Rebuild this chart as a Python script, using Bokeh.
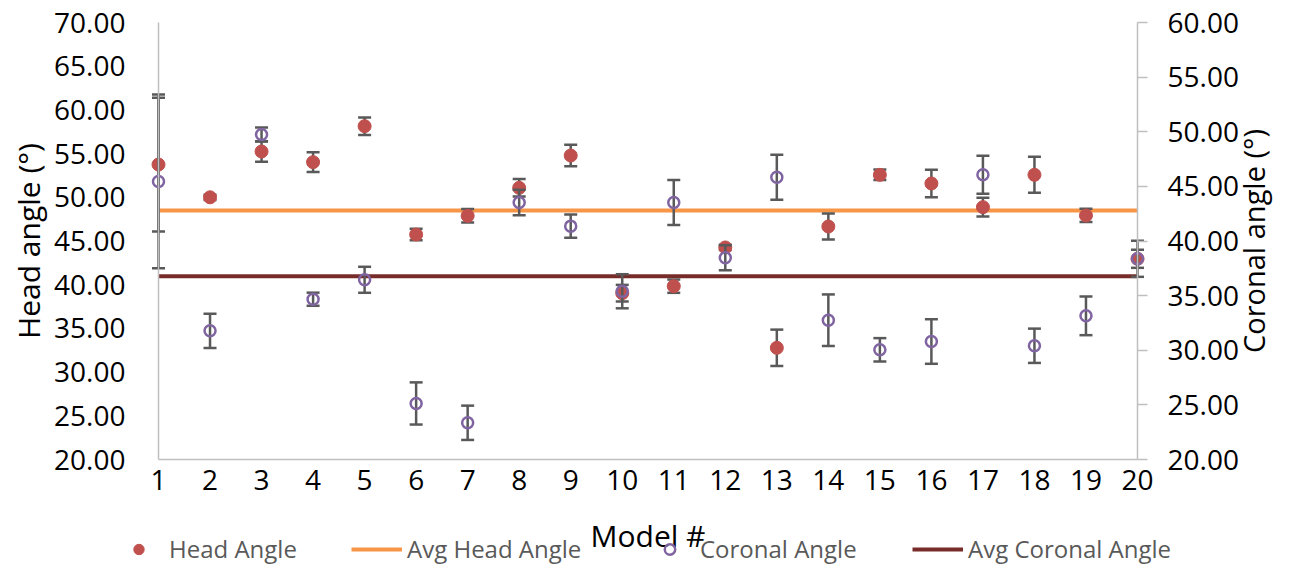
import math
from bokeh.plotting import figure
from bokeh.models import (Range1d, LinearAxis, FixedTicker, NumeralTickFormatter,
                          Legend, LegendItem, Label)
from bokeh.embed import file_html
from bokeh.resources import INLINE

# ---------------- data ----------------
models = list(range(1, 21))
head_angle = [53.75, 50.0, 55.24, 54.02, 58.14, 45.74, 47.88, 51.08, 54.78, 39.03,
              39.83, 44.26, 32.78, 46.66, 52.57, 51.58, 48.87, 52.57, 47.92, 42.96]
head_err = [7.65, 0.3, 1.17, 1.13, 1.0, 0.65, 0.77, 1.0, 1.24, 0.95,
            0.76, 0.3, 2.08, 1.49, 0.6, 1.58, 1.07, 2.06, 0.76, 1.03]
coronal_angle = [45.45, 31.78, 49.75, 34.67, 36.45, 25.13, 23.36, 43.52, 41.36, 35.4,
                 43.52, 38.46, 45.84, 32.75, 30.04, 30.8, 46.06, 30.41, 33.15, 38.37]
coronal_err = [7.95, 1.57, 0.64, 0.6, 1.19, 1.93, 1.57, 1.16, 1.07, 1.56,
               2.06, 1.14, 2.06, 2.36, 1.07, 2.04, 1.74, 1.57, 1.77, 1.65]
avg_head = 48.49
avg_coronal = 36.78
left_ticks = [20, 25, 30, 35, 40, 45, 50, 55, 60, 65, 70]
right_ticks = [20, 25, 30, 35, 40, 45, 50, 55, 60]
legend_labels = ["Head Angle", "Avg Head Angle", "Coronal Angle", "Avg Coronal Angle"]

# ---------------- layout (pixels) ----------------
W, H = 1275, 567
PX_L, PX_R = 158, 1137      # screen x of first / last model
PX_T, PX_B = 22, 459        # screen y of axis top / bottom
LEG_X = [113, 351, 644, 912]  # screen x where each legend entry starts

def xrange_for(lo, hi):
    k = (hi - lo) / (PX_R - PX_L)
    return Range1d(lo - PX_L * k, hi + (W - PX_R) * k)

def yrange_for(lo, hi):
    k = (hi - lo) / (PX_B - PX_T)
    return Range1d(lo - (H - PX_B) * k, hi + PX_T * k)

# ---------------- styles ----------------
RED = "#C0504D"
PURPLE = "#8064A2"
ORANGE = "#F79646"
DARKRED = "#772C2A"
ERR = "#595959"
AXIS = "#BFBFBF"
FONT = "Open Sans"

p = figure(width=W, height=H, output_backend="svg", toolbar_location=None,
           x_range=xrange_for(models[0], models[-1]),
           y_range=yrange_for(left_ticks[0], left_ticks[-1]),
           min_border=0, min_border_left=0, min_border_right=0,
           min_border_top=0, min_border_bottom=0)
p.extra_y_ranges = {"right": yrange_for(right_ticks[0], right_ticks[-1])}
p.outline_line_color = None
p.xgrid.visible = False
p.ygrid.visible = False
p.background_fill_color = "white"
p.border_fill_color = "white"

# x axis
xa = p.xaxis[0]
xa.fixed_location = left_ticks[0]
xa.bounds = (models[0], models[-1])
xa.ticker = FixedTicker(ticks=models)
xa.major_tick_line_color = None
xa.minor_tick_line_color = None
xa.axis_line_color = AXIS
xa.axis_line_width = 1.5
xa.major_label_text_font = FONT
xa.major_label_text_font_size = "28px"
xa.major_label_text_color = "black"
xa.major_label_standoff = 4
xa.axis_label = "Model #"
xa.axis_label_text_font = FONT
xa.axis_label_text_font_size = "30px"
xa.axis_label_text_font_style = "normal"
xa.axis_label_text_color = "black"
xa.axis_label_standoff = 22

# left axis
ya = p.yaxis[0]
ya.fixed_location = models[0]
ya.bounds = (left_ticks[0], left_ticks[-1])
ya.ticker = FixedTicker(ticks=left_ticks)
ya.formatter = NumeralTickFormatter(format="0.00")
ya.major_tick_line_color = None
ya.minor_tick_line_color = None
ya.axis_line_color = AXIS
ya.axis_line_width = 1.5
ya.major_label_text_font = FONT
ya.major_label_text_font_size = "28px"
ya.major_label_text_color = "black"
ya.major_label_standoff = 27
ya.axis_label = "Head angle (°)"
ya.axis_label_text_font = FONT
ya.axis_label_text_font_size = "30px"
ya.axis_label_text_font_style = "normal"
ya.axis_label_text_color = "black"
ya.axis_label_standoff = 2

# right axis
ra = LinearAxis(y_range_name="right", ticker=FixedTicker(ticks=right_ticks),
                formatter=NumeralTickFormatter(format="0.00"))
ra.fixed_location = models[-1]
ra.bounds = (right_ticks[0], right_ticks[-1])
ra.major_tick_out = 10
ra.major_tick_in = 0
ra.major_tick_line_color = AXIS
ra.major_tick_line_width = 1.5
ra.minor_tick_line_color = None
ra.axis_line_color = AXIS
ra.axis_line_width = 1.5
ra.major_label_text_font = FONT
ra.major_label_text_font_size = "28px"
ra.major_label_text_color = "black"
ra.major_label_standoff = 20
p.add_layout(ra, "right")

# right axis title, reading bottom-to-top like the left one
p.add_layout(Label(x=models[-1], y=(right_ticks[0] + right_ticks[-1]) / 2,
                   y_range_name="right", x_offset=116, y_offset=0,
                   text="Coronal angle (°)", angle=math.pi / 2, angle_units="rad",
                   text_align="center", text_baseline="middle",
                   text_font=FONT, text_font_size="29px", text_color="black"))

# average lines
r_avg_head = p.line(models, [avg_head] * len(models), line_color=ORANGE, line_width=4)
r_avg_cor = p.line(models, [avg_coronal] * len(models), line_color=DARKRED, line_width=4,
                   y_range_name="right")

# head angle with error bars
h_lo = [v - e for v, e in zip(head_angle, head_err)]
h_hi = [v + e for v, e in zip(head_angle, head_err)]
p.segment(models, h_lo, models, h_hi, line_color=ERR, line_width=2.5)
p.scatter(models, h_lo, marker="dash", size=13, line_color=ERR, line_width=2.5)
p.scatter(models, h_hi, marker="dash", size=13, line_color=ERR, line_width=2.5)
r_head = p.scatter(models, head_angle, marker="circle", size=13, fill_color=RED,
                   line_color=RED, line_width=1)

# coronal angle with error bars
c_lo = [v - e for v, e in zip(coronal_angle, coronal_err)]
c_hi = [v + e for v, e in zip(coronal_angle, coronal_err)]
p.segment(models, c_lo, models, c_hi, line_color=ERR, line_width=2.5, y_range_name="right")
p.scatter(models, c_lo, marker="dash", size=13, line_color=ERR, line_width=2.5,
          y_range_name="right")
p.scatter(models, c_hi, marker="dash", size=13, line_color=ERR, line_width=2.5,
          y_range_name="right")
r_cor = p.scatter(models, coronal_angle, marker="circle", size=11, fill_color="white",
                  fill_alpha=0, line_color=PURPLE, line_width=2.5, y_range_name="right")

# legend: one entry per box, laid out in a row at the bottom
for rend, label, lx in zip([r_head, r_avg_head, r_cor, r_avg_cor], legend_labels, LEG_X):
    leg = Legend(items=[LegendItem(label=label, renderers=[rend])],
                 location=(lx, 2), orientation="horizontal",
                 glyph_width=51, glyph_height=26, label_height=26,
                 label_standoff=5, padding=0, margin=0, spacing=0,
                 border_line_color=None, background_fill_alpha=0,
                 label_text_font=FONT, label_text_font_size="24px",
                 label_text_color="#595959")
    p.add_layout(leg, "center")

open("out.html", "w").write(file_html(p, INLINE))
